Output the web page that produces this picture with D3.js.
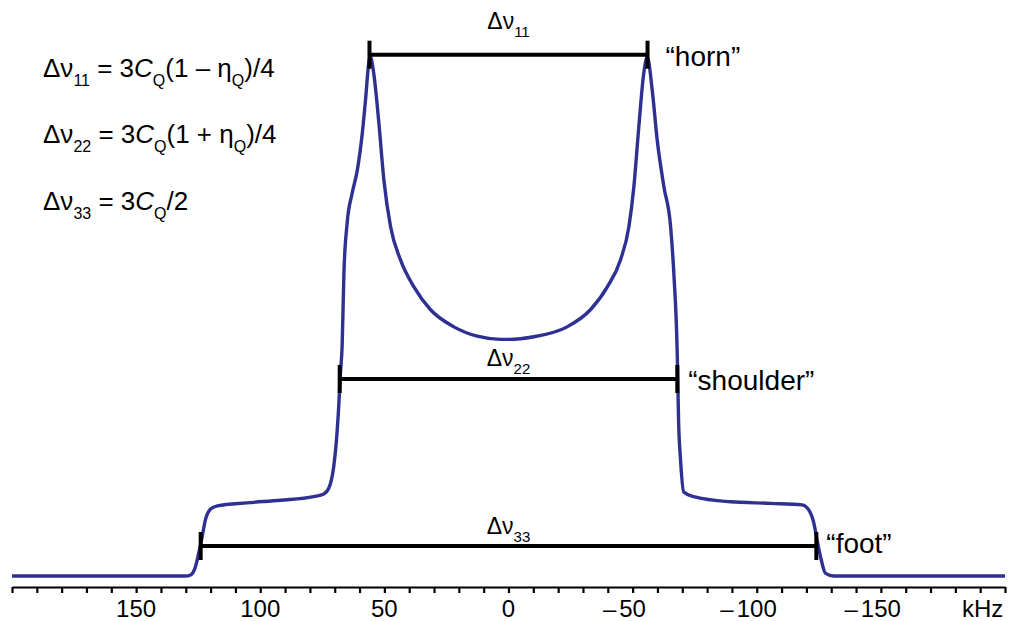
<!DOCTYPE html>
<html>
<head>
<meta charset="utf-8">
<script src="https://cdn.jsdelivr.net/npm/d3@7"></script>
<style>
  html, body { margin: 0; padding: 0; background: #fff; }
  svg text { font-family: "Liberation Sans", Arial, Helvetica, sans-serif; fill: #000; }
</style>
</head>
<body>
<svg id="chart" width="1012" height="621"></svg>
<script>
// Quadrupolar powder pattern: frequency offset (kHz) and relative intensity (horn = 100)
const freqKHz = [200, 150, 130.1, 128.1, 126.1, 124.8, 123.4, 122.1, 120.0, 117.3, 105.3, 91.8, 78.5, 74.4, 72.4, 70.4, 69.3, 68.4, 67.7, 67.0, 66.3, 65.0, 63.0, 60.9, 58.9, 57.6, 56.3, 55.6, 54.3, 52.2, 50.2, 47.5, 43.5, 38.1, 31.4, 22.0, 12.6, 3.2, 0,
  -10.2, -23.6, -33.0, -39.8, -45.1, -48.5, -50.5, -52.5, -54.5, -55.9, -57.9, -59.9, -62.6, -65.3, -66.6, -68.0, -68.5, -69.3, -70.6, -74.6, -89.4, -105.5, -118.3, -121.0, -123.0, -124.3, -125.7, -127.7, -131.0, -150, -200];
const intensity = [0, 0, 0, 0.2, 1.8, 4.4, 7.6, 10.8, 12.9, 13.5, 14.1, 14.6, 15.3, 15.8, 16.9, 21.1, 26.2, 32.6, 39.1, 44.5, 58.3, 68.0, 73.7, 78.2, 85.3, 91.7, 98.8, 100, 96.9, 87.2, 76.3, 67.3, 60.9, 55.7, 51.3, 48.0, 46.2, 45.6, 45.6,
  46.1, 48.0, 51.3, 55.7, 60.9, 67.3, 75.0, 86.6, 96.9, 100, 93.6, 84.0, 75.0, 67.3, 58.3, 42.3, 30.1, 22.4, 16.2, 15.3, 14.3, 14.0, 13.7, 12.7, 10.2, 6.9, 3.7, 0.5, 0, 0, 0];

// Half-widths of the marked splittings (kHz)
const splitNames = ["11", "22", "33"];
const splitHalfKHz = [56, 68, 124];
const featureNames = ["\u201Chorn\u201D", "\u201Cshoulder\u201D", "\u201Cfoot\u201D"];

// Axis ticks
const tickValuesKHz = d3.range(-200, 201, 10);
const labelValuesKHz = [150, 100, 50, 0, -50, -100, -150];
const axisUnit = "kHz";

const svg = d3.select("#chart");

const x = d3.scaleLinear().domain([200, -200]).range([12, 1005]);
const y = d3.scaleLinear().domain([0, 100]).range([576, 57]);

// Spectrum
const pts = freqKHz.map((f, i) => [f, intensity[i]]);
const line = d3.line()
  .x(d => x(d[0]))
  .y(d => y(d[1]))
  .curve(d3.curveMonotoneX);

svg.append("path")
  .datum(pts)
  .attr("d", line)
  .attr("fill", "none")
  .attr("stroke", "#2e3192")
  .attr("stroke-width", 3.4)
  .attr("stroke-linejoin", "round");

// Frequency axis
const axisY = 587;
const axisG = svg.append("g")
  .attr("transform", `translate(0,${axisY})`)
  .call(d3.axisBottom(x).tickValues(tickValuesKHz).tickSize(6).tickSizeOuter(0).tickFormat(""));
axisG.select(".domain").attr("stroke", "#000").attr("stroke-width", 2.2);
axisG.selectAll(".tick line").attr("stroke", "#000").attr("stroke-width", 2.2);

const labelBase = 617;
const labelG = svg.append("g");
labelValuesKHz.forEach(v => {
  const t = labelG.append("text")
    .attr("x", x(v))
    .attr("y", labelBase)
    .attr("text-anchor", "middle")
    .attr("font-size", 24)
    .text(Math.abs(v));
  if (v < 0) {
    const w = t.node().getComputedTextLength();
    labelG.append("text")
      .attr("x", x(v) - w / 2 - 3)
      .attr("y", labelBase)
      .attr("text-anchor", "end")
      .attr("font-size", 24)
      .text("\u2013");
  }
});
labelG.append("text")
  .attr("x", 962)
  .attr("y", labelBase)
  .attr("font-size", 24)
  .text(axisUnit);

// Splitting markers
const barLevels = [54.7, 379, 546];
const labelBaselines = [29, 366, 534];
const featureBaselines = [66, 390, 553];
const featureGaps = [18, 11, 10];

splitHalfKHz.forEach((h, i) => {
  const x0 = x(h), x1 = x(-h), yy = barLevels[i];
  const g = svg.append("g");
  g.append("line").attr("x1", x0).attr("x2", x1).attr("y1", yy).attr("y2", yy)
    .attr("stroke", "#000").attr("stroke-width", 4);
  [x0, x1].forEach(xx => {
    g.append("line").attr("x1", xx).attr("x2", xx).attr("y1", yy - 14).attr("y2", yy + 14)
      .attr("stroke", "#000").attr("stroke-width", 4);
  });
  const lab = g.append("text")
    .attr("x", x(0))
    .attr("y", labelBaselines[i])
    .attr("text-anchor", "middle")
    .attr("font-size", 23);
  lab.append("tspan").text("\u0394\u03BD");
  lab.append("tspan").attr("font-size", 15).attr("dy", 8).text(splitNames[i]);

  g.append("text")
    .attr("x", x1 + featureGaps[i])
    .attr("y", featureBaselines[i])
    .attr("font-size", 28)
    .text(featureNames[i]);
});

// Relations between splittings and quadrupole parameters
const formulas = [
  [["\u0394\u03BD", 0], ["11", 1], [" = 3", 0], ["C", 2], ["Q", 1], ["(1 \u2013 \u03B7", 0], ["Q", 1], [")/4", 0]],
  [["\u0394\u03BD", 0], ["22", 1], [" = 3", 0], ["C", 2], ["Q", 1], ["(1 + \u03B7", 0], ["Q", 1], [")/4", 0]],
  [["\u0394\u03BD", 0], ["33", 1], [" = 3", 0], ["C", 2], ["Q", 1], ["/2", 0]]
];
const formulaBaselines = [77, 143, 210];
formulas.forEach((parts, i) => {
  const t = svg.append("text")
    .attr("x", 43)
    .attr("y", formulaBaselines[i])
    .attr("font-size", 26);
  let sub = false;
  parts.forEach(([s, kind]) => {
    const ts = t.append("tspan").text(s);
    if (kind === 1) {
      ts.attr("font-size", 16).attr("dy", sub ? 0 : 9);
      sub = true;
    } else {
      if (sub) ts.attr("dy", -9);
      sub = false;
      if (kind === 2) ts.attr("font-style", "italic");
    }
  });
});
</script>
</body>
</html>
